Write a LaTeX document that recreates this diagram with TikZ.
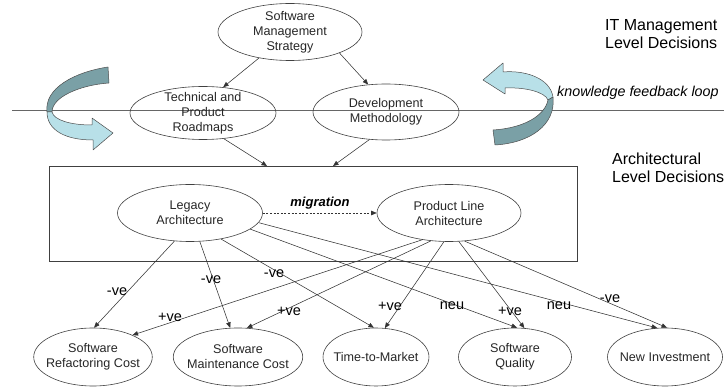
\documentclass[tikz,border=0pt]{standalone}
\usepackage{fontspec}
\setmainfont{Liberation Sans}
\usetikzlibrary{shapes.geometric,arrows.meta}
\definecolor{ribdark}{RGB}{122,160,166}
\definecolor{riblight}{RGB}{184,224,232}
\begin{document}
\begin{tikzpicture}[x=1pt,y=-1pt,
  ell/.style={draw=black!75, line width=0.6pt, ellipse, inner sep=-5pt, align=center,
    font=\fontsize{12.6}{15}\selectfont, text=black!85},
  conn/.style={draw=black!80, line width=0.55pt, -{Triangle[length=5.5pt,width=4.5pt]}},
  lab/.style={font=\fontsize{14.5}{16}\selectfont, inner sep=0pt, text=black},
  side/.style={font=\fontsize{16}{18}\selectfont, align=left, anchor=west, inner sep=0pt},
  darkrib/.style={fill=ribdark, draw=black!70, line width=0.5pt, line join=round},
  lightrib/.style={fill=riblight, draw=black!70, line width=0.5pt, line join=round}]
\useasboundingbox (0,0) rectangle (724,387);

% level separator
\coordinate (sepL) at (12,110);
\coordinate (sepR) at (724,110);
\draw[black!60, line width=0.6pt] (sepL) -- (sepR);

% ribbon arrows (knowledge feedback loop)
\draw[darkrib] (108,67) .. controls (75,72) and (44,88) .. (47,112)
  -- (52,112) .. controls (52,97) and (80,85) .. (109,83) -- cycle;
\draw[lightrib] (47,112) .. controls (47,130) and (65,140) .. (93,140)
  -- (93,150) -- (113,133) -- (92,118) -- (92,125)
  .. controls (70,125) and (54,120) .. (52,112) -- cycle;
\draw[lightrib] (483,80) -- (503,63) -- (503,72)
  .. controls (525,70) and (550,78) .. (553,97)
  -- (548,100) .. controls (545,92) and (525,87) .. (505,88)
  -- (505,94) -- cycle;
\draw[darkrib] (553,97) .. controls (556,125) and (530,143) .. (495,145)
  -- (493,130) .. controls (525,128) and (545,115) .. (548,100) -- cycle;

% side texts
\node[side] (itm) at (605,34) {IT Management\\Level Decisions};
\node[side] (arch) at (612,168) {Architectural\\Level Decisions};
\node[anchor=west, inner sep=0pt, font=\fontsize{14.3}{16}\selectfont\itshape] (kfl) at (557,93) {knowledge feedback loop};

% management level
\node[ell, minimum width=144pt, minimum height=57pt] (sms) at (290,32) {Software\\Management\\Strategy};
\node[ell, minimum width=146pt, minimum height=53pt] (tpr) at (203,113) {Technical and\\Product\\Roadmaps};
\node[ell, minimum width=146pt, minimum height=56pt] (dm) at (386,112) {Development\\Methodology};

% architectural box
\node[draw=black!75, line width=0.6pt, minimum width=528pt, minimum height=95pt, inner sep=0pt] (box) at (313,213.5) {};
\coordinate (boxA) at (267,166);
\coordinate (boxB) at (333,166);

\node[ell, minimum width=145pt, minimum height=57pt] (leg) at (190,213) {Legacy\\Architecture};
\node[ell, minimum width=144pt, minimum height=57pt] (pla) at (449,213) {Product Line\\Architecture};

% outcome ellipses
\node[ell, minimum width=114pt, minimum height=58pt] (src) at (93,357) {Software\\Refactoring Cost};
\node[ell, minimum width=128pt, minimum height=58pt] (smc) at (238,357) {Software\\Maintenance Cost};
\node[ell, minimum width=102pt, minimum height=58pt] (ttm) at (376,357) {Time-to-Market};
\node[ell, minimum width=113pt, minimum height=58pt] (sq) at (515,357) {Software\\Quality};
\node[ell, minimum width=115pt, minimum height=58pt] (ni) at (665,357) {New Investment};

% management connectors
\draw[conn] (sms.220) -- (tpr.52);
\draw[conn] (sms.337) -- (dm.123);
\draw[conn] (tpr.309) -- (boxA);
\draw[conn] (dm.239) -- (boxB);

% migration
\draw[conn, dashed, dash pattern=on 2pt off 1.6pt] (leg.east) -- (pla.west);
\node[inner sep=0pt, anchor=base, font=\fontsize{13}{15}\selectfont\bfseries\itshape] (mig) at (320,207) {migration};

% legacy architecture impacts
\draw[conn] (leg.241) -- (src.88);
\draw[conn] (leg.289) -- (smc.105);
\draw[conn] (leg.320) -- (ttm.94);
\draw[conn] (leg.345) -- (sq.86);
\draw[conn] (leg.352) -- (ni.105);

% product line architecture impacts
\draw[conn] (pla.225) -- (src.29);
\draw[conn] (pla.237) -- (smc.73);
\draw[conn] (pla.260) -- (ttm.73);
\draw[conn] (pla.289) -- (sq.72);
\draw[conn] (pla.299) -- (ni.86);

% impact labels
\node[lab] (l1) at (117,292) {-ve};
\node[lab] (l2) at (211,280) {-ve};
\node[lab] (l3) at (274,274) {-ve};
\node[lab] (l4) at (170,317) {+ve};
\node[lab] (l5) at (289,311) {+ve};
\node[lab] (l6) at (390,306) {+ve};
\node[lab] (l7) at (452,306) {neu};
\node[lab] (l8) at (510,311) {+ve};
\node[lab] (l9) at (559,306) {neu};
\node[lab] (l10) at (610,299) {-ve};
\end{tikzpicture}
\end{document}
